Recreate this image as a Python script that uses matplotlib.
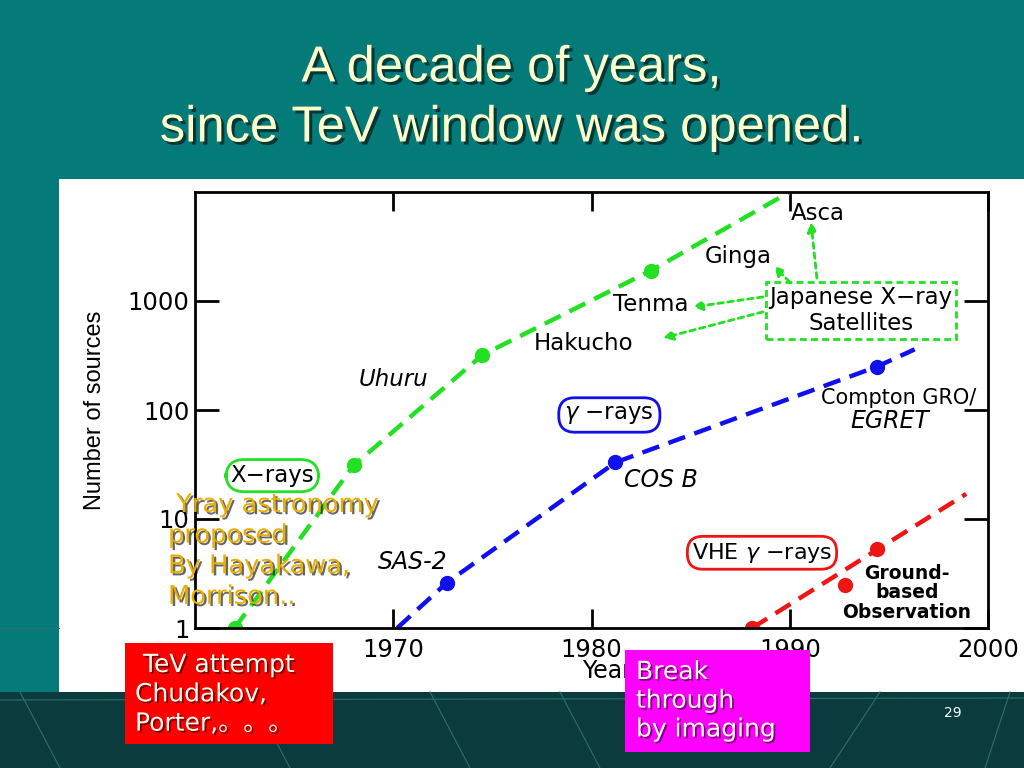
"""Slide: number of X-ray / gamma-ray / VHE sources versus year."""

import matplotlib
matplotlib.use('Agg')
import matplotlib.pyplot as plt
from matplotlib import patheffects
from matplotlib.patches import Rectangle
from matplotlib.lines import Line2D
from matplotlib.ticker import NullLocator

# values
xray_years = [1962.0, 1968.0, 1974.5, 1983.0]
xray_counts = [1, 31, 320, 1900]
xray_trend_years = [1962.0, 1968.0, 1974.5, 1983.0, 1990.0]
xray_trend_counts = [1, 31, 320, 1900, 10000]

gamma_years = [1972.7, 1981.2, 1994.4]
gamma_counts = [2.6, 33, 250]
gamma_trend_years = [1970.2, 1972.7, 1981.2, 1994.4, 1996.3]
gamma_trend_counts = [1, 2.6, 33, 250, 360]

vhe_years = [1988.1, 1992.8, 1994.4]
vhe_counts = [1.0, 2.5, 5.3]
vhe_trend_years = [1988.1, 1998.9]
vhe_trend_counts = [1.0, 17]

year_ticks = [1970, 1980, 1990, 2000]
year_tick_labels = ['1970', '1980', '1990', '2000']
count_ticks = [1, 10, 100, 1000]
count_tick_labels = ['1', '10', '100', '1000']

xray_satellites = ['Hakucho', 'Tenma', 'Ginga', 'Asca']

GREEN = '#22E022'
BLUE = '#1010EE'
RED = '#EE1515'
W, H = 1024, 768


def fig_xy(x, y):
    """Pixel position on the slide -> figure fraction."""
    return x / W, 1 - y / H


def shadow(offset=1.5, alpha=0.55):
    return [patheffects.withSimplePatchShadow(offset=(offset, -offset),
                                              shadow_rgbFace='black',
                                              alpha=alpha)]


fig = plt.figure(figsize=(10.24, 7.68), dpi=100)
fig.patch.set_facecolor('#047B79')

# slide background pieces
fig.add_artist(Rectangle(fig_xy(59, 692), (W - 59) / W, (692 - 179) / H,
                         transform=fig.transFigure, fc='white', ec='none', zorder=-2))
fig.add_artist(Rectangle((0, 0), 1, (H - 692) / H, transform=fig.transFigure,
                         fc='#0C3B3D', ec='none', zorder=-2))
for x0, y0, x1, y1 in [(0, 700, 1024, 698), (20, 692, 60, 768), (250, 692, 290, 768),
                       (430, 692, 470, 768), (560, 692, 600, 768), (880, 692, 830, 768),
                       (1010, 692, 985, 768), (0, 628, 59, 628)]:
    fig.add_artist(Line2D([x0 / W, x1 / W], [1 - y0 / H, 1 - y1 / H],
                          transform=fig.transFigure, color='#2E6E6E', lw=0.8, zorder=-1))

# title
title_font = ['Liberation Sans', 'DejaVu Sans']
fig.text(0.5, 1 - 68 / H, 'A decade of years,', ha='center', va='center',
         fontsize=36.5, color='#FFFFCC', family=title_font, path_effects=shadow(2.2))
fig.text(0.5, 1 - 128 / H, 'since TeV window was opened.', ha='center', va='center',
         fontsize=36.5, color='#FFFFCC', family=title_font, path_effects=shadow(2.2))

# chart
ax = fig.add_axes([195 / W, 1 - 628 / H, (988 - 195) / W, (628 - 192) / H])
ax.set_facecolor('white')
ax.set_yscale('log')
ax.set_xlim(1960, 2000)
ax.set_ylim(1, 1e4)
ax.set_xticks(year_ticks)
ax.set_xticklabels(year_tick_labels)
ax.set_yticks(count_ticks)
ax.set_yticklabels(count_tick_labels)
ax.yaxis.set_minor_locator(NullLocator())
ax.tick_params(direction='in', length=14, width=2, top=True, right=True,
               labelsize=17.5, colors='black')
ax.tick_params(axis='y', length=17, pad=4)
ax.tick_params(axis='x', pad=7)
for sp in ax.spines.values():
    sp.set_linewidth(2)

ax.set_xlabel('Years', fontsize=17, family='DejaVu Sans')
ax.xaxis.set_label_coords(0.528, -0.072)
ax.set_ylabel('Number of sources', fontsize=17, family='Liberation Sans')
ax.yaxis.set_label_coords(-0.112, 0.5)

dash = (4, 2.2)
ax.plot(xray_trend_years, xray_trend_counts, color=GREEN, lw=3.2, dashes=dash)
ax.plot(xray_years, xray_counts, 'o', color=GREEN, ms=10)
ax.plot(gamma_trend_years, gamma_trend_counts, color=BLUE, lw=3.2, dashes=dash)
ax.plot(gamma_years, gamma_counts, 'o', color=BLUE, ms=10)
ax.plot(vhe_trend_years, vhe_trend_counts, color=RED, lw=3.2, dashes=dash)
ax.plot(vhe_years, vhe_counts, 'o', color=RED, ms=10)

# annotations
fs = 16.5
ax.text(1963.9, 25, 'X\u2212rays', fontsize=fs, ha='center', va='center',
        bbox=dict(boxstyle='round,pad=0.2,rounding_size=0.8', fc='white', ec=GREEN, lw=2))
ax.text(1970.0, 190, 'Uhuru', fontsize=fs, style='italic', ha='center', va='center')

sat_pos = [(1979.6, 410), (1983.0, 920), (1987.4, 2580), (1991.4, 6400)]
for name, (sx, sy) in zip(xray_satellites, sat_pos):
    ax.text(sx, sy, name, fontsize=fs, ha='center', va='center')

ax.text(1993.6, 820, 'Japanese X\u2212ray\nSatellites', fontsize=fs, ha='center', va='center',
        linespacing=1.2,
        bbox=dict(boxstyle='square,pad=0.15', fc='white', ec=GREEN, lw=2, ls=(0, (2.5, 1.5))))
arrows = [((1991.37, 1620), (1991.07, 5300)),
          ((1990.0, 1490), (1989.2, 2100)),
          ((1988.65, 1090), (1985.1, 880)),
          ((1988.65, 795), (1983.6, 457))]
for tail, head in arrows:
    ax.annotate('', xy=head, xytext=tail,
                arrowprops=dict(arrowstyle='-|>', color=GREEN, lw=2, ls=(0, (2, 1.6)),
                                mutation_scale=14, shrinkA=0, shrinkB=0))

ax.text(1980.9, 90, r'$\gamma$ $-$rays', fontsize=fs, ha='center', va='center',
        bbox=dict(boxstyle='round,pad=0.25,rounding_size=0.7', fc='white', ec=BLUE, lw=2))
ax.text(1995.5, 129, 'Compton GRO/', fontsize=fs - 1.5, ha='center', va='center')
ax.text(1995.05, 80, 'EGRET', fontsize=fs + 0.5, style='italic', ha='center', va='center')
ax.text(1983.5, 23, 'COS B', fontsize=fs + 0.5, style='italic', ha='center', va='center')
ax.text(1971.0, 4.0, 'SAS-2', fontsize=fs + 0.5, style='italic', ha='center', va='center')

ax.text(1988.6, 4.9, r'VHE $\gamma$ $-$rays', fontsize=fs - 0.5, ha='center', va='center',
        bbox=dict(boxstyle='round,pad=0.2,rounding_size=0.7', fc='white', ec=RED, lw=2))
ax.text(1995.9, 2.1, 'Ground-\nbased\nObservation', fontsize=13.5, weight='bold',
        ha='center', va='center', linespacing=1.05)

# slide call-outs on top of the chart
fig.text(168 / W, 1 - 492 / H, ' Yray astronomy\nproposed\nBy Hayakawa,\nMorrison..',
         fontsize=18.5, color='#EAAE00', ha='left', va='top', family='DejaVu Sans',
         linespacing=1.23, zorder=5, path_effects=shadow(1.6, 0.6))

fig.add_artist(Rectangle(fig_xy(125, 744), (333 - 125) / W, (744 - 643) / H,
                         transform=fig.transFigure, fc='#FF0000', ec='none', zorder=5))
fig.text(135 / W, 1 - 653 / H, ' TeV attempt\nChudakov,\nPorter,\u3002\u3002\u3002',
         fontsize=18, color='#FFFFF0', ha='left', va='top',
         family=['DejaVu Sans', 'Noto Sans CJK JP'], linespacing=1.28, zorder=6,
         path_effects=shadow(1.3, 0.5))

fig.add_artist(Rectangle(fig_xy(625, 752), (810 - 625) / W, (752 - 650) / H,
                         transform=fig.transFigure, fc='#FF00FF', ec='none', zorder=5))
fig.text(636 / W, 1 - 660 / H, 'Break\nthrough\nby imaging',
         fontsize=18, color='#FFFFF0', ha='left', va='top', family='DejaVu Sans',
         linespacing=1.25, zorder=6, path_effects=shadow(1.3, 0.5))

fig.text(953 / W, 1 - 713 / H, '29', fontsize=10, color='white', ha='center', va='center')

fig.savefig('out.png', dpi=100, facecolor=fig.get_facecolor())
